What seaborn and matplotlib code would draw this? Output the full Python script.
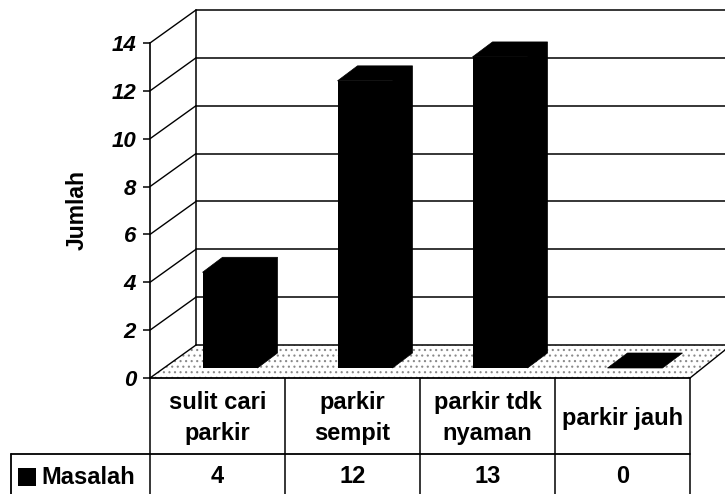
import matplotlib
matplotlib.use("Agg")
import matplotlib.pyplot as plt
from matplotlib.patches import Polygon
from matplotlib.transforms import ScaledTranslation
import pandas as pd
import seaborn as sns

categories = ["sulit cari\nparkir", "parkir\nsempit", "parkir tdk\nnyaman", "parkir jauh"]
values = [4, 12, 13, 0]
series_name = "Masalah"
y_ticks = [0, 2, 4, 6, 8, 10, 12, 14]
y_label = "Jumlah"

W, H, DPI = 725, 494, 100
sns.set_theme(style="white")
plt.rcParams["font.family"] = ["Liberation Sans", "DejaVu Sans"]
plt.rcParams["hatch.linewidth"] = 0.8

fig = plt.figure(figsize=(W / DPI, H / DPI), dpi=DPI, facecolor="white")
L, R, T, B = 150, 690, 43, 378
ax = fig.add_axes([L / W, 1 - B / H, (R - L) / W, (B - T) / H])

df = pd.DataFrame({"cat": categories, "val": values})
px_x = (R - L) / 4
px_y = (B - T) / 14
bar_w = 55 / px_x
shift_x, lift = 12.5, 10
off = ax.transData + ScaledTranslation(shift_x / DPI, lift / DPI, fig.dpi_scale_trans)
sns.barplot(data=df, x="cat", y="val", order=categories, color="black", saturation=1,
            width=bar_w, ax=ax, transform=off, clip_on=False, zorder=5, linewidth=0)
ax.set_xlim(-0.5, 3.5)
ax.set_ylim(0, 14)

# depth of the wall and of the bars, in data units
wall_dx, wall_dy = 46 / px_x, 33 / px_y
bar_dx, bar_dy = 20 / px_x, 15 / px_y

# floor
xl, xr = -0.5, 3.5
edge_dx = 35 / px_x
floor = Polygon([(xl, 0), (xl + wall_dx, wall_dy), (xr + wall_dx, wall_dy), (xr + edge_dx, 28 / px_y), (xr, 0)],
                closed=True, facecolor="white", edgecolor="#8a8a8a", hatch="...", lw=0, zorder=1, clip_on=False)
ax.add_patch(floor)

# back wall, gridlines
for t in y_ticks:
    ax.plot([xl, xl + wall_dx], [t, t + wall_dy], color="black", lw=1.0, clip_on=False, zorder=2)
    ax.plot([xl + wall_dx, xr + wall_dx], [t + wall_dy, t + wall_dy], color="black", lw=1.1, clip_on=False, zorder=2)
ax.plot([xl + wall_dx] * 2, [wall_dy, 14 + wall_dy], color="black", lw=1.1, clip_on=False, zorder=2)
ax.plot([xr, xr + edge_dx], [0, 28 / px_y], color="black", lw=1.0, clip_on=False, zorder=3)
ax.plot([xl, xr], [0, 0], color="black", lw=1.3, clip_on=False, zorder=3)

# bar depth faces
for patch, v in zip(ax.patches, values):
    x0 = patch.get_x()
    x1 = x0 + patch.get_width()
    pts = [(x0, v), (x0 + bar_dx, v + bar_dy), (x1 + bar_dx, v + bar_dy),
           (x1 + bar_dx, bar_dy), (x1, 0), (x1, v)]
    ax.add_patch(Polygon(pts, closed=True, facecolor="black", edgecolor="black", lw=0.5,
                         transform=off, clip_on=False, zorder=6))

ax.set_xticks([])
ax.set_xlabel("")
ax.set_yticks(y_ticks)
ax.set_yticklabels([str(t) for t in y_ticks], fontsize=16, fontweight="bold", fontstyle="italic", color="black")
ax.tick_params(axis="y", left=True, length=5, width=1.1, pad=5, color="black")
ax.set_ylabel(y_label, fontsize=16.5, fontweight="bold", color="black", labelpad=0)
ax.yaxis.set_label_coords((89 - L) / (R - L), 0.5)
for s in ["top", "right", "bottom"]:
    ax.spines[s].set_visible(False)
ax.spines["left"].set_linewidth(1.2)
ax.spines["left"].set_color("black")
ax.patch.set_alpha(0)

# data table
ov = fig.add_axes([0, 0, 1, 1], zorder=10)
ov.set_xlim(0, W)
ov.set_ylim(H, 0)
ov.axis("off")
row1, row2, row3 = 378, 454, 494
xs = [L + i * px_x for i in range(5)]
for x in xs:
    ov.plot([x, x], [row1, row3], color="black", lw=1.1)
ov.plot([11, R], [row2, row2], color="black", lw=1.3)
ov.plot([11, 11], [row2, row3], color="black", lw=1.3)
for i, (c, v) in enumerate(zip(categories, values)):
    cx = xs[i] + px_x / 2
    ov.text(cx, (row1 + row2) / 2 + 2, c, ha="center", va="center", fontsize=17,
            fontweight="bold", color="black", linespacing=1.4)
    ov.text(cx, (row2 + row3) / 2 + 2, str(v), ha="center", va="center", fontsize=17,
            fontweight="bold", color="black")
ov.fill([18, 36, 36, 18], [468, 468, 486, 486], color="black", lw=0)
ov.text(41, (row2 + row3) / 2 + 3, series_name, ha="left", va="center", fontsize=17,
        fontweight="bold", color="black")

fig.savefig("out.png", dpi=DPI, facecolor="white")
